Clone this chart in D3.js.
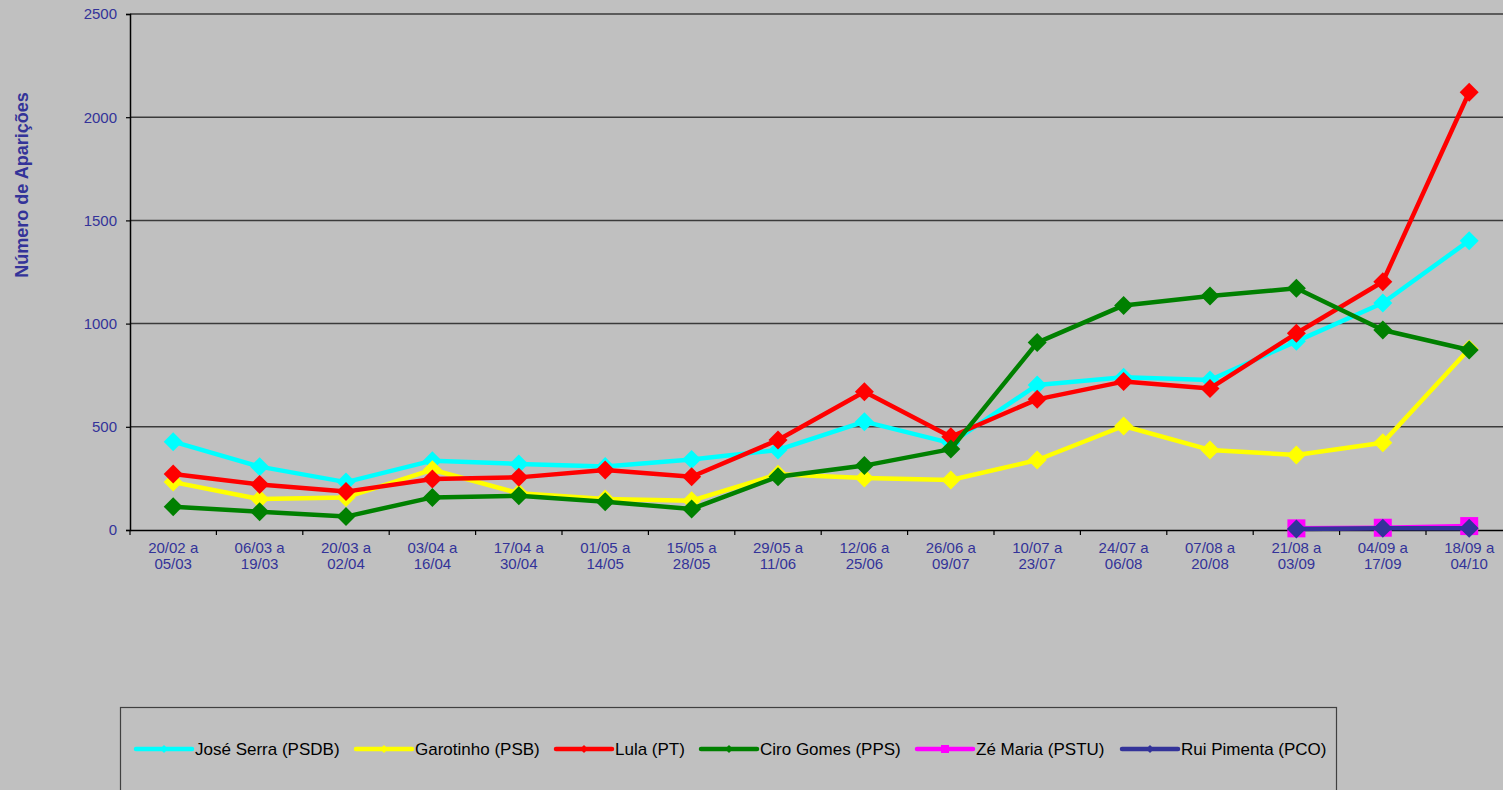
<!DOCTYPE html>
<html><head><meta charset="utf-8">
<script src="https://cdn.jsdelivr.net/npm/d3@7"></script>
<style>
html,body{margin:0;padding:0;background:#c0c0c0;}
svg{display:block;font-family:"Liberation Sans",Arial,sans-serif;}
</style></head>
<body>
<svg id="chart" width="1503" height="790"></svg>
<script>
const categories = ["20/02 a|05/03","06/03 a|19/03","20/03 a|02/04","03/04 a|16/04","17/04 a|30/04","01/05 a|14/05","15/05 a|28/05","29/05 a|11/06","12/06 a|25/06","26/06 a|09/07","10/07 a|23/07","24/07 a|06/08","07/08 a|20/08","21/08 a|03/09","04/09 a|17/09","18/09 a|04/10"];
const serra     = [428, 307, 232, 336, 320, 308, 342, 388, 525, 421, 703, 740, 727, 914, 1100, 1402];
const garotinho = [232, 150, 158, 292, 178, 150, 142, 270, 252, 242, 339, 504, 388, 363, 423, 877];
const lula      = [271, 221, 186, 247, 255, 291, 258, 436, 670, 452, 633, 719, 686, 953, 1203, 2121];
const ciro      = [113, 89, 65, 158, 166, 137, 102, 258, 312, 392, 908, 1088, 1134, 1171, 969, 872];
const zeMaria   = [null,null,null,null,null,null,null,null,null,null,null,null,null, 8, 11, 19];
const ruiPimenta= [null,null,null,null,null,null,null,null,null,null,null,null,null, 5, 8, 9];
const seriesNames = ["José Serra (PSDB)","Garotinho (PSB)","Lula (PT)","Ciro Gomes (PPS)","Zé Maria (PSTU)","Rui Pimenta (PCO)"];
const yTicks = [0, 500, 1000, 1500, 2000, 2500];
const yTitle = "Número de Aparições";

const series = [
  {name: seriesNames[0], values: serra,     color: "#00ffff", marker: "diamond"},
  {name: seriesNames[1], values: garotinho, color: "#ffff00", marker: "diamond"},
  {name: seriesNames[2], values: lula,      color: "#ff0000", marker: "diamond"},
  {name: seriesNames[3], values: ciro,      color: "#008000", marker: "diamond"},
  {name: seriesNames[4], values: zeMaria,   color: "#ff00ff", marker: "square"},
  {name: seriesNames[5], values: ruiPimenta,color: "#333399", marker: "diamond"}
];

const textColor = "#333399";
const svg = d3.select("#chart");
const plotLeft = 130, plotRight = 130 + 16 * 86.4, plotTop = 14, plotBottom = 530;

const x = d3.scaleBand().domain(categories).range([plotLeft, plotRight]);
const y = d3.scaleLinear().domain([0, 2500]).range([plotBottom, plotTop]);

// gridlines
svg.append("g").selectAll("line").data(yTicks.filter(d => d > 0)).join("line")
  .attr("x1", plotLeft).attr("x2", 1503)
  .attr("y1", d => y(d)).attr("y2", d => y(d))
  .attr("stroke", "#3a3a3a").attr("stroke-width", 1.5);

// y axis
const yAxis = svg.append("g").attr("transform", `translate(${plotLeft},0)`)
  .call(d3.axisLeft(y).tickValues(yTicks).tickSize(4).tickPadding(9).tickFormat(d3.format("d")));
yAxis.select(".domain").attr("stroke", "#000").attr("stroke-width", 1.5);
yAxis.selectAll(".tick line").attr("stroke", "#000").attr("stroke-width", 1.2);
yAxis.selectAll(".tick text").attr("fill", textColor).attr("font-size", 15)
  .attr("font-family", "Liberation Sans, Arial, sans-serif");

// x axis
const xAxis = svg.append("g").attr("transform", `translate(0,${plotBottom})`)
  .call(d3.axisBottom(x).tickSize(0).tickFormat(""));
xAxis.select(".domain").attr("stroke", "#000").attr("stroke-width", 1.5);
svg.append("g").selectAll("line").data(categories).join("line")
  .attr("x1", d => x(d)).attr("x2", d => x(d))
  .attr("y1", plotBottom).attr("y2", plotBottom + 5)
  .attr("stroke", "#000").attr("stroke-width", 1.2);
const xl = svg.append("g").selectAll("text").data(categories).join("text")
  .attr("x", d => x(d) + x.bandwidth() / 2)
  .attr("y", plotBottom + 23)
  .attr("text-anchor", "middle").attr("fill", textColor).attr("font-size", 15);
xl.append("tspan").attr("x", d => x(d) + x.bandwidth() / 2).text(d => d.split("|")[0]);
xl.append("tspan").attr("x", d => x(d) + x.bandwidth() / 2).attr("dy", 16).text(d => d.split("|")[1]);

// y title
svg.append("text").attr("transform", `translate(28,185) rotate(-90)`)
  .attr("text-anchor", "middle").attr("fill", textColor)
  .attr("font-size", 18).attr("font-weight", "bold").text(yTitle);

// series
const line = d3.line().defined(d => d.v !== null)
  .x(d => x(d.c) + x.bandwidth() / 2).y(d => y(d.v));

function markerPath(type, s) {
  if (type === "square") return `M${-s},${-s}H${s}V${s}H${-s}Z`;
  return `M0,${-s}L${s},0L0,${s}L${-s},0Z`;
}

series.forEach(sr => {
  const pts = sr.values.map((v, i) => ({c: categories[i], v}));
  const g = svg.append("g");
  g.append("path").datum(pts).attr("d", line)
    .attr("fill", "none").attr("stroke", sr.color).attr("stroke-width", 4.5)
    .attr("stroke-linejoin", "round");
  g.selectAll("path.m").data(pts.filter(d => d.v !== null)).join("path").attr("class", "m")
    .attr("transform", d => `translate(${x(d.c) + x.bandwidth() / 2},${y(d.v)})`)
    .attr("d", markerPath(sr.marker, sr.marker === "square" ? 9 : 9.5))
    .attr("fill", sr.color);
});

// legend
svg.append("rect").attr("x", 120.5).attr("y", 707.5).attr("width", 1216).attr("height", 120)
  .attr("fill", "#c0c0c0").attr("stroke", "#404040").attr("stroke-width", 1.2);
const legendX = [136, 356, 556, 701, 917, 1122];
const lg = svg.append("g").selectAll("g").data(series).join("g")
  .attr("transform", (d, i) => `translate(${legendX[i]},749)`);
lg.append("line").attr("x1", 0).attr("x2", 56).attr("y1", 0).attr("y2", 0)
  .attr("stroke", d => d.color).attr("stroke-width", 4.5).attr("stroke-linecap", "round");
lg.append("path").attr("transform", "translate(28,0)")
  .attr("d", d => markerPath(d.marker, 4)).attr("fill", d => d.color);
lg.append("text").attr("x", 59).attr("y", 0).attr("dy", "0.35em")
  .attr("fill", "#000").attr("font-size", 17).text(d => d.name);
</script>
</body></html>
